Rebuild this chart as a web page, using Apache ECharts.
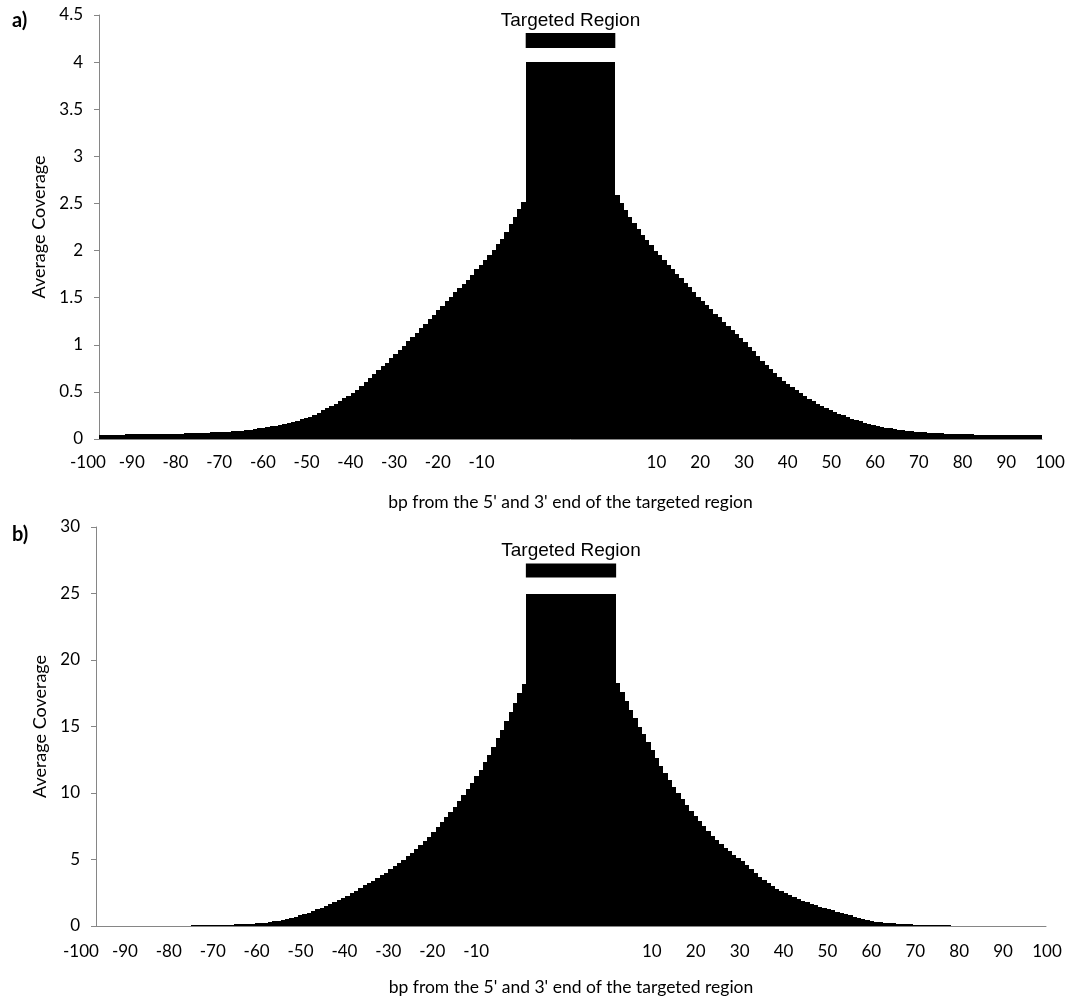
<!DOCTYPE html>
<html>
<head>
<meta charset="utf-8">
<script src="https://cdn.jsdelivr.net/npm/echarts@6/dist/echarts.min.js"></script>
<style>
  html, body { margin: 0; padding: 0; background: #fff; }
  #chart { width: 1070px; height: 1001px; }
</style>
</head>
<body>
<div id="chart"></div>
<script>
// average coverage per bp, 5' side (-100 .. -1) and 3' side (1 .. 100)
const leftA = [
  0.04, 0.04, 0.04, 0.04, 0.045, 0.045,
  0.05, 0.05, 0.05, 0.05, 0.05, 0.05, 0.05, 0.05, 0.05,
  0.055, 0.055, 0.055, 0.055, 0.055, 0.06, 0.06, 0.06, 0.06, 0.065,
  0.065, 0.07, 0.07, 0.072, 0.075, 0.078, 0.082, 0.085, 0.09, 0.095,
  0.10, 0.105, 0.113, 0.12, 0.127, 0.134, 0.142, 0.15, 0.16, 0.169,
  0.18, 0.194, 0.208, 0.222, 0.238, 0.254, 0.28, 0.306, 0.33, 0.35,
  0.375, 0.40, 0.43, 0.455, 0.485, 0.525, 0.565, 0.61, 0.65, 0.69,
  0.73, 0.77, 0.81, 0.855, 0.90, 0.945, 0.99, 1.035, 1.08, 1.125,
  1.175, 1.225, 1.27, 1.32, 1.365, 1.41, 1.46, 1.51, 1.555, 1.60,
  1.645, 1.69, 1.745, 1.80, 1.85, 1.90, 1.955, 2.01, 2.065, 2.12,
  2.20, 2.28, 2.36, 2.44, 2.52
];
const rightA = [
  2.59, 2.51, 2.43, 2.36, 2.29, 2.23, 2.17, 2.11, 2.06, 2.00,
  1.95, 1.90, 1.85, 1.80, 1.755, 1.71, 1.66, 1.61, 1.56, 1.51,
  1.465, 1.42, 1.375, 1.33, 1.29, 1.245, 1.20, 1.16, 1.115, 1.07,
  1.025, 0.98, 0.93, 0.88, 0.83, 0.785, 0.74, 0.70, 0.66, 0.62,
  0.585, 0.55, 0.515, 0.485, 0.455, 0.425, 0.40, 0.375, 0.35, 0.33,
  0.31, 0.29, 0.27, 0.25, 0.232, 0.215, 0.20, 0.186, 0.173, 0.16,
  0.15, 0.14, 0.13, 0.122, 0.114, 0.106, 0.099, 0.093, 0.087, 0.081,
  0.077, 0.073, 0.07, 0.067, 0.064, 0.062, 0.06, 0.058, 0.056, 0.054,
  0.052, 0.05, 0.049, 0.048, 0.047, 0.046, 0.045, 0.044, 0.043, 0.043,
  0.042, 0.042, 0.042, 0.041, 0.041, 0.041, 0.04, 0.04, 0.04, 0.04
];
const leftB = [
  0, 0, 0, 0, 0, 0, 0, 0, 0, 0,
  0, 0, 0, 0, 0, 0, 0, 0, 0, 0,
  0, 0,
  0.03, 0.035, 0.04, 0.045, 0.05, 0.06, 0.07, 0.08, 0.09, 0.10,
  0.115, 0.13, 0.145, 0.16, 0.18, 0.20, 0.23, 0.26, 0.30, 0.34,
  0.39, 0.45, 0.52, 0.60, 0.69, 0.79, 0.90, 1.01, 1.13, 1.26,
  1.39, 1.52, 1.65, 1.79, 1.95, 2.12, 2.28, 2.45, 2.65, 2.85,
  3.05, 3.22, 3.4, 3.6, 3.8, 4.02, 4.25, 4.48, 4.72, 4.97,
  5.24, 5.52, 5.8, 6.1, 6.4, 6.72, 7.05, 7.42, 7.8, 8.18,
  8.56, 8.98, 9.4, 9.85, 10.3, 10.75, 11.25, 11.75, 12.3, 12.85,
  13.45, 14.1, 14.75, 15.4, 16.1, 16.8, 17.5, 18.2
];
const rightB = [
  18.3, 17.6, 16.95, 16.25, 15.65, 15.0, 14.4, 13.8, 13.2, 12.6,
  12.05, 11.5, 10.98, 10.48, 10.0, 9.55, 9.1, 8.68, 8.27, 7.88,
  7.5, 7.15, 6.8, 6.47, 6.15, 5.88, 5.62, 5.35, 5.1, 4.86,
  4.6, 4.3, 4.0, 3.7, 3.45, 3.22, 3.0, 2.8, 2.62, 2.45,
  2.3, 2.16, 2.02, 1.9, 1.78, 1.66, 1.55, 1.45, 1.36, 1.27,
  1.18, 1.09, 0.99, 0.89, 0.79, 0.69, 0.6, 0.51, 0.42, 0.37,
  0.33, 0.29, 0.26, 0.23, 0.2, 0.17, 0.15, 0.13, 0.115, 0.1,
  0.09, 0.08, 0.07, 0.06, 0.05, 0.04, 0.035, 0.03, 0, 0,
  0, 0, 0, 0, 0, 0, 0, 0, 0, 0,
  0, 0, 0, 0, 0, 0, 0, 0, 0, 0
];
// the targeted region itself and the "Targeted Region" marker bar (low, high)
const targetA = 4;
const targetB = 25;
const bannerA = [4.15, 4.31];
const bannerB = [26.2, 27.25];
const TARGET_SPAN = 21; // width of the targeted region in bp-bar units

const tickLabels = [
  '-100', '-90', '-80', '-70', '-60', '-50', '-40', '-30', '-20', '-10',
  '', '', '',
  '10', '20', '30', '40', '50', '60', '70', '80', '90', '100'
];

const FONT = 'Lato, "Open Sans", sans-serif';
const AXIS_GREY = '#868686';
const X_MAX = 100 + TARGET_SPAN + 100;

// [x0, x1, value] rows on a bp-bar unit axis
function buildBars(left, target, right) {
  const rows = [];
  left.forEach((v, i) => rows.push([i, i + 1, v]));
  rows.push([100, 100 + TARGET_SPAN, target]);
  right.forEach((v, j) => rows.push([100 + TARGET_SPAN + j, 100 + TARGET_SPAN + j + 1, v]));
  return rows;
}

function renderBar(params, api) {
  const v = api.value(2);
  if (!(v > 0)) {
    return null;
  }
  const p0 = api.coord([api.value(0), v]);
  const p1 = api.coord([api.value(1), 0]);
  // snap to whole pixels so neighbouring bars meet without seams
  const x0 = Math.round(p0[0]);
  const x1 = Math.round(p1[0]);
  const y0 = Math.round(p0[1]);
  const y1 = Math.round(p1[1]);
  return {
    type: 'rect',
    shape: { x: x0, y: Math.min(y0, y1 - 1), width: x1 - x0, height: Math.max(y1 - y0, 1) },
    style: { fill: '#000' },
  };
}

function renderBanner(params, api) {
  const p0 = api.coord([api.value(0), api.value(3)]);
  const p1 = api.coord([api.value(1), api.value(2)]);
  return {
    type: 'group',
    children: [
      {
        type: 'rect',
        shape: { x: p0[0], y: p0[1], width: p1[0] - p0[0], height: p1[1] - p0[1] },
        style: { fill: '#000' },
      },
      {
        type: 'text',
        style: {
          x: (p0[0] + p1[0]) / 2,
          y: p0[1] - 3,
          text: 'Targeted Region',
          fill: '#000',
          font: '19px "Liberation Sans", Arial, sans-serif',
          textAlign: 'center',
          textVerticalAlign: 'bottom',
        },
      },
    ],
  };
}

function plotXAxis(gridIndex, nameGap) {
  return {
    gridIndex,
    type: 'value',
    min: 0,
    max: X_MAX,
    axisLine: { show: true, lineStyle: { color: AXIS_GREY, width: 1 } },
    axisTick: { show: false },
    axisLabel: { show: false },
    splitLine: { show: false },
    name: "bp from the 5' and 3' end of the targeted region",
    nameLocation: 'middle',
    nameGap,
    nameTextStyle: { fontFamily: FONT, fontSize: 17.5, color: '#000' },
  };
}

function labelXAxis(gridIndex, margin) {
  return {
    gridIndex,
    type: 'category',
    boundaryGap: false,
    data: tickLabels,
    axisLine: { show: false },
    axisTick: { show: false },
    splitLine: { show: false },
    axisLabel: { interval: 0, margin, fontFamily: FONT, fontSize: 17, color: '#000' },
  };
}

function plotYAxis(gridIndex, max, interval, nameGap) {
  return {
    gridIndex,
    type: 'value',
    min: 0,
    max,
    interval,
    axisLine: { show: true, lineStyle: { color: AXIS_GREY, width: 1 } },
    axisTick: { show: true, inside: false, length: 5, lineStyle: { color: AXIS_GREY } },
    axisLabel: { margin: 16, fontFamily: FONT, fontSize: 17, color: '#000' },
    splitLine: { show: false },
    name: 'Average Coverage',
    nameLocation: 'middle',
    nameRotate: 90,
    nameGap,
    nameTextStyle: { fontFamily: FONT, fontSize: 18, color: '#000' },
  };
}

const hiddenY = (gridIndex) => ({ gridIndex, type: 'value', min: 0, max: 1, show: false });

const chart = echarts.init(document.getElementById('chart'), null, { renderer: 'canvas' });
chart.setOption({
  animation: false,
  backgroundColor: '#fff',
  title: [
    { text: 'a)', left: 7, top: 6, textStyle: { fontFamily: FONT, fontSize: 20, fontWeight: 'bold', color: '#000' } },
    { text: 'b)', left: 7, top: 520, textStyle: { fontFamily: FONT, fontSize: 20, fontWeight: 'bold', color: '#000' } },
  ],
  grid: [
    { left: 99, top: 15, width: 943, height: 424 },
    { left: 88, top: 15, width: 962, height: 424 },
    { left: 96, top: 527, width: 950, height: 399 },
    { left: 81, top: 527, width: 966, height: 399 },
  ],
  xAxis: [
    plotXAxis(0, 54),
    labelXAxis(1, 15),
    plotXAxis(2, 52),
    labelXAxis(3, 17),
  ],
  yAxis: [
    plotYAxis(0, 4.5, 0.5, 50),
    hiddenY(1),
    plotYAxis(2, 30, 5, 46),
    hiddenY(3),
  ],
  series: [
    {
      name: 'coverage a',
      type: 'custom',
      xAxisIndex: 0,
      yAxisIndex: 0,
      renderItem: renderBar,
      encode: { x: [0, 1], y: 2 },
      data: buildBars(leftA, targetA, rightA),
      silent: true,
    },
    {
      name: 'region a',
      type: 'custom',
      xAxisIndex: 0,
      yAxisIndex: 0,
      renderItem: renderBanner,
      encode: { x: [0, 1], y: [2, 3] },
      data: [[100, 100 + TARGET_SPAN, bannerA[0], bannerA[1]]],
      silent: true,
    },
    {
      name: 'coverage b',
      type: 'custom',
      xAxisIndex: 2,
      yAxisIndex: 2,
      renderItem: renderBar,
      encode: { x: [0, 1], y: 2 },
      data: buildBars(leftB, targetB, rightB),
      silent: true,
    },
    {
      name: 'region b',
      type: 'custom',
      xAxisIndex: 2,
      yAxisIndex: 2,
      renderItem: renderBanner,
      encode: { x: [0, 1], y: [2, 3] },
      data: [[100, 100 + TARGET_SPAN, bannerB[0], bannerB[1]]],
      silent: true,
    },
  ],
});
</script>
</body>
</html>
